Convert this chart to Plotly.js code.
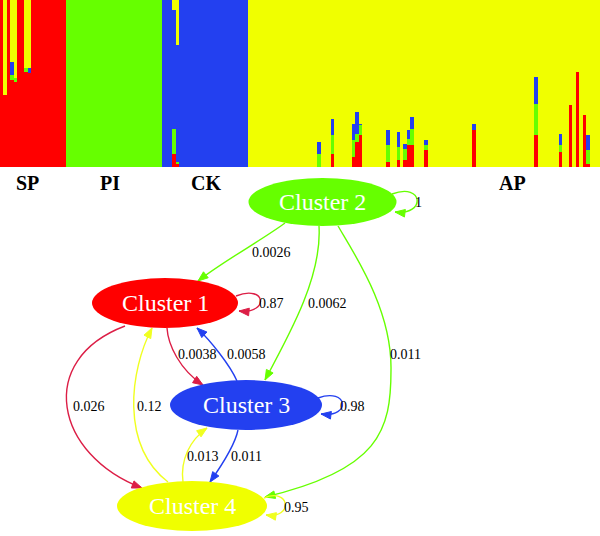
<!DOCTYPE html>
<html>
<head>
<meta charset="utf-8">
<script src="https://cdn.plot.ly/plotly-3.0.1.min.js"></script>
<style>html,body{margin:0;padding:0;background:#fff;}#chart{width:600px;height:536px;}</style>
</head>
<body>
<div id="chart"></div>
<script>
// ---------------- DATA ----------------
const populations = ['SP', 'PI', 'CK', 'AP'];
const popSizes = [19, 28, 25, 102];

// Membership proportions per individual (SP | PI | CK | AP)
const q1 = [ // Cluster 1 (red)
  1,0.43,1,0.52,0.51,1,1,0.57,0.56,1,1,1,1,1,1,1,1,1,1,
  0,0,0,0,0,0,0,0,0,0,0,0,0,0,0,0,0,0,0,0,0,0,0,0,0,0,0,0,
  0,0,0,0.08,0.02,0,0,0,0,0,0,0,0,0,0,0,0,0,0,0,0,0,0,0,0,
  0,0,0,0,0,0,0,0,0,0,
  0,0,0,0,0,0,0,0,0,0,
  0,0,0,0,0.08,0,0,0,0,0,
  0.06,0.15,0.19,0,0,0,0,0,0,0,
  0.03,0,0,0.04,0,0.04,0.13,0.13,0,0,
  0,0.10,0,0,0,0,0,0,0,0,
  0,0,0,0,0,0.22,0,0,0,0,
  0,0,0,0,0,0,0,0,0,0,
  0,0,0,0.19,0,0,0,0,0,0,
  0.09,0,0,0.37,0,0.57,0,0.31,0.02,0,
  0,0
];
const q2 = [ // Cluster 2 (green)
  0,0,0,0.03,0.02,0,0,0.02,0,0,0,0,0,0,0,0,0,0,0,
  1,1,1,1,1,1,1,1,1,1,1,1,1,1,1,1,1,1,1,1,1,1,1,1,1,1,1,1,
  0,0,0,0.15,0.01,0,0,0,0,0,0,0,0,0,0,0,0,0,0,0,0,0,0,0,0,
  0,0,0,0,0,0,0,0,0,0,
  0,0,0,0,0,0,0,0,0,0,
  0.08,0,0,0,0.11,0,0,0,0,0,
  0.10,0.05,0.06,0,0,0,0,0,0,0,
  0.10,0,0,0.08,0,0.07,0.04,0.10,0,0,
  0,0.03,0,0,0,0,0,0,0,0,
  0,0,0,0,0,0,0,0,0,0,
  0,0,0,0,0,0,0,0,0,0,
  0,0,0,0.19,0,0,0,0,0,0,
  0.04,0,0,0,0,0,0,0,0.08,0,
  0,0
];
const q3 = [ // Cluster 3 (blue)
  0,0,0,0.08,0,0,0,0,0.03,0,0,0,0,0,0,0,0,0,0,
  0,0,0,0,0,0,0,0,0,0,0,0,0,0,0,0,0,0,0,0,0,0,0,0,0,0,0,0,
  1,1,1,0.71,0.70,1,1,1,1,1,1,1,1,1,1,1,1,1,1,1,1,1,1,1,1,
  0,0,0,0,0,0,0,0,0,0,
  0,0,0,0,0,0,0,0,0,0,
  0.07,0,0,0,0.10,0,0,0,0,0,
  0.10,0.13,0.01,0,0,0,0,0,0,0,
  0.09,0,0,0.09,0,0.03,0.05,0.07,0,0,
  0,0.03,0,0,0,0,0,0,0,0,
  0,0,0,0,0,0.04,0,0,0,0,
  0,0,0,0,0,0,0,0,0,0,
  0,0,0,0.16,0,0,0,0,0,0,
  0.07,0,0,0,0,0,0,0,0.09,0,
  0,0
];
const q4 = [ // Cluster 4 (yellow)
  0,0.57,0,0.37,0.47,0,0,0.41,0.41,0,0,0,0,0,0,0,0,0,0,
  0,0,0,0,0,0,0,0,0,0,0,0,0,0,0,0,0,0,0,0,0,0,0,0,0,0,0,0,
  0,0,0,0.06,0.27,0,0,0,0,0,0,0,0,0,0,0,0,0,0,0,0,0,0,0,0,
  1,1,1,1,1,1,1,1,1,1,
  1,1,1,1,1,1,1,1,1,1,
  0.85,1,1,1,0.71,1,1,1,1,1,
  0.74,0.67,0.74,1,1,1,1,1,1,1,
  0.78,1,1,0.79,1,0.86,0.78,0.70,1,1,
  1,0.84,1,1,1,1,1,1,1,1,
  1,1,1,1,1,0.74,1,1,1,1,
  1,1,1,1,1,1,1,1,1,1,
  1,1,1,0.46,1,1,1,1,1,1,
  0.80,1,1,0.63,1,0.43,1,0.69,0.81,1,
  1,1
];

// Migration network
const clusterNames = ['Cluster 1', 'Cluster 2', 'Cluster 3', 'Cluster 4'];
const selfRates = [0.87, 1, 0.98, 0.95];
const edgeFrom  = [2, 2, 2, 1, 3, 1, 4, 4, 3];
const edgeTo    = [1, 3, 4, 3, 1, 4, 1, 3, 4];
const edgeRates = [0.0026, 0.0062, 0.011, 0.0038, 0.0058, 0.026, 0.12, 0.013, 0.011];

// ---------------- STYLE / LAYOUT ----------------
const W = 600, H = 536, BAR_H = 167;
const clusterColors = ['#ff0000', '#66ff00', '#2340f0', '#f0ff00'];
const edgeColors    = ['#dc1e46', '#66ff00', '#2340f0', '#f0ff20'];
const popLabelX = [27, 110, 206, 512];
const popLabelY = 183;

const nodeGeom = [
  {cx: 165,   cy: 303, rx: 73, ry: 25},
  {cx: 322.5, cy: 202, rx: 74, ry: 24},
  {cx: 246,   cy: 405, rx: 76, ry: 25},
  {cx: 192,   cy: 506, rx: 75, ry: 25}
];
// bezier routing for each edge (start, c1, c2, end [, c1, c2, end])
const edgeRoutes = [
  [[285,223],[262,240],[222,262],[198,281]],
  [[319,226],[322,275],[292,330],[265,380]],
  [[338,226],[355,255],[392,310],[391,370],[391,430],[380,470],[265,497]],
  [[167,328],[168,345],[180,370],[203,385]],
  [[237,381],[230,365],[210,340],[197,328]],
  [[125,326],[35,360],[55,455],[142,488]],
  [[168,482],[120,445],[130,370],[152,328]],
  [[183,482],[180,460],[190,440],[207,428]],
  [[238,430],[235,445],[222,465],[210,482]]
];
const edgeLabelPos = [[271.5,252],[327.5,303],[405,354],[197.5,354],[246,354],[88.5,406],[149,406],[202.5,456],[246,456]];
const loopRoutes = [
  [[236,296],[266,284],[270,314],[239,311]],
  [[392,194],[424,182],[426,216],[395,212]],
  [[318,398],[348,387],[352,418],[321,414]],
  [[264,498],[290,487],[294,519],[266,515]]
];
const loopLabelPos = [[271.5,303],[418,202],[352.5,406],[296.5,507]];

const serif = "'Liberation Serif', 'Times New Roman', serif";

// ---------------- BUILD ----------------
const N = q1.length;
const xIdx = Array.from({length: N}, (_, i) => i);
const qs = [q1, q2, q3, q4];
const traces = qs.map((q, k) => ({
  type: 'bar', x: xIdx, y: q, name: clusterNames[k],
  marker: {color: clusterColors[k], line: {width: 0}},
  xaxis: 'x', yaxis: 'y', hoverinfo: 'skip', showlegend: false
}));
traces.push({type: 'scatter', x: [], y: [], xaxis: 'x2', yaxis: 'y2', showlegend: false, hoverinfo: 'skip'});

function pathFromRoute(r) {
  let s = 'M ' + r[0][0] + ',' + r[0][1];
  for (let i = 1; i < r.length; i += 3) {
    s += ' C ' + r[i][0] + ',' + r[i][1] + ' ' + r[i+1][0] + ',' + r[i+1][1] + ' ' + r[i+2][0] + ',' + r[i+2][1];
  }
  return s;
}
function arrowHead(r, color) {
  const tip = r[r.length - 1], prev = r[r.length - 2];
  let dx = tip[0] - prev[0], dy = tip[1] - prev[1];
  const len = Math.hypot(dx, dy); dx /= len; dy /= len;
  const L = 10, w = 3.8;
  const bx = tip[0] - L * dx, by = tip[1] - L * dy;
  const nx = -dy, ny = dx;
  return {
    type: 'path', xref: 'x2', yref: 'y2', layer: 'above',
    path: 'M ' + tip[0] + ',' + tip[1] + ' L ' + (bx + w*nx) + ',' + (by + w*ny) + ' L ' + (bx - w*nx) + ',' + (by - w*ny) + ' Z',
    fillcolor: color, line: {color: color, width: 1}
  };
}

const shapes = [];
const annotations = [];
edgeFrom.forEach((f, i) => {
  const c = edgeColors[f - 1];
  shapes.push({type: 'path', xref: 'x2', yref: 'y2', layer: 'above', path: pathFromRoute(edgeRoutes[i]), line: {color: c, width: 1.4}});
  shapes.push(arrowHead(edgeRoutes[i], c));
  annotations.push({xref: 'x2', yref: 'y2', x: edgeLabelPos[i][0], y: edgeLabelPos[i][1], text: String(edgeRates[i]), showarrow: false, font: {family: serif, size: 14, color: '#000'}});
});
selfRates.forEach((v, k) => {
  const c = edgeColors[k];
  shapes.push({type: 'path', xref: 'x2', yref: 'y2', layer: 'above', path: pathFromRoute(loopRoutes[k]), line: {color: c, width: 1.4}});
  shapes.push(arrowHead(loopRoutes[k], c));
  annotations.push({xref: 'x2', yref: 'y2', x: loopLabelPos[k][0], y: loopLabelPos[k][1], text: String(v), showarrow: false, font: {family: serif, size: 14, color: '#000'}});
});
nodeGeom.forEach((g, k) => {
  shapes.push({type: 'circle', xref: 'x2', yref: 'y2', layer: 'above', x0: g.cx - g.rx, x1: g.cx + g.rx, y0: g.cy - g.ry, y1: g.cy + g.ry, fillcolor: clusterColors[k], line: {width: 0}});
  annotations.push({xref: 'x2', yref: 'y2', x: g.cx, y: g.cy, text: clusterNames[k], showarrow: false, font: {family: serif, size: 24, color: '#ffffff'}});
});
populations.forEach((p, i) => {
  annotations.push({xref: 'paper', yref: 'paper', x: popLabelX[i] / W, y: 1 - popLabelY / H, text: p, showarrow: false, xanchor: 'center', yanchor: 'middle', font: {family: serif, size: 20, color: '#000', weight: 'bold'}});
});

const layout = {
  width: W, height: H, margin: {l: 0, r: 0, t: 0, b: 0, pad: 0},
  paper_bgcolor: '#ffffff', plot_bgcolor: 'rgba(0,0,0,0)',
  barmode: 'stack', bargap: 0, showlegend: false,
  xaxis: {domain: [0, 1], range: [-0.5, N - 0.5], visible: false, fixedrange: true},
  yaxis: {domain: [1 - BAR_H / H, 1], range: [0, 1], visible: false, fixedrange: true},
  xaxis2: {domain: [0, 1], range: [0, W], visible: false, anchor: 'y2', fixedrange: true},
  yaxis2: {domain: [0, 1], range: [H, 0], visible: false, anchor: 'x2', fixedrange: true},
  shapes: shapes, annotations: annotations
};
Plotly.newPlot('chart', traces, layout, {displayModeBar: false, staticPlot: true});
</script>
</body>
</html>
